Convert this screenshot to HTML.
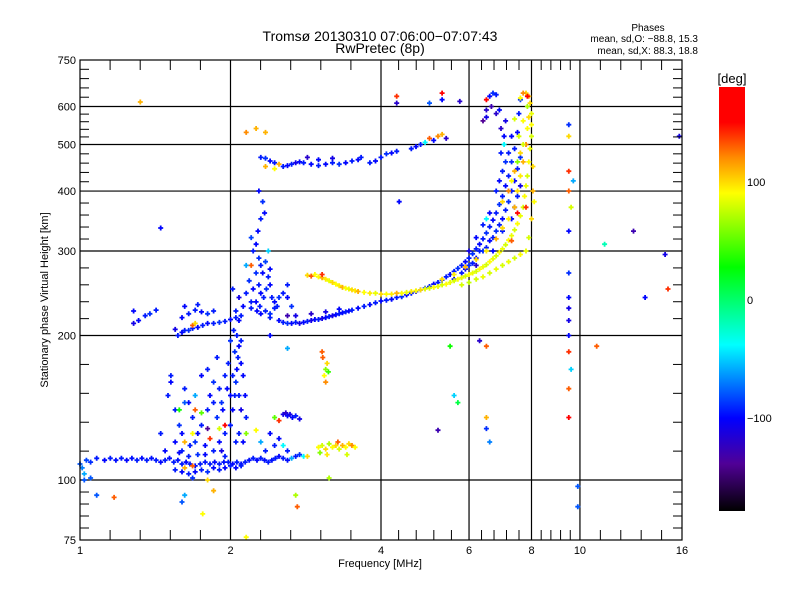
<!DOCTYPE html>
<html><head><meta charset="utf-8">
<style>
body{margin:0;background:#fff;}
svg{display:block;font-family:"Liberation Sans",sans-serif;}
</style></head>
<body>
<svg id="chart" width="800" height="600" viewBox="0 0 800 600" xmlns="http://www.w3.org/2000/svg">
<defs>
<linearGradient id="cbar" x1="0" y1="1" x2="0" y2="0" gradientUnits="objectBoundingBox">
</linearGradient>
</defs>
<rect width="800" height="600" fill="#fff"/>
<text x="380" y="41" font-size="14" text-anchor="middle">Tromsø 20130310 07:06:00−07:07:43</text>
<text x="380" y="53" font-size="14" text-anchor="middle">RwPretec (8p)</text>
<text x="648" y="31" font-size="10" text-anchor="middle">Phases</text>
<text x="698" y="42" font-size="10" text-anchor="end">mean, sd,O:  −88.8, 15.3</text>
<text x="698" y="54" font-size="10" text-anchor="end">mean, sd,X:  88.3, 18.8</text>
<g id="grid"></g>
<g id="marks"></g>
<rect x="80" y="60" width="602" height="480" fill="none" stroke="#000" stroke-width="1.2"/>
<g id="axes"></g>
<text x="380" y="567" font-size="11" text-anchor="middle">Frequency [MHz]</text>
<text transform="translate(48,300) rotate(-90)" font-size="11" text-anchor="middle">Stationary phase Virtual Height [km]</text>
<rect x="719" y="87" width="26" height="424" fill="url(#cbar)"/>
<text x="732" y="83" font-size="13" text-anchor="middle">[deg]</text>
<g id="cbticks"></g>
</svg>
<script>
const xMajor=[1,2,4,6,8,10,16];
const yMajor=[75,100,200,300,400,500,600,750];
const cbTicks=[100,0,-100];
const eLayerPts=[[1.0,108,-80],[1.01,106,-70],[1.02,103,-60],[1.03,110,-85],[1.05,109,-90],[1.08,111,-95],[1.12,110,-100],[1.15,111,-95],[1.18,110,-98],[1.21,111,-95],[1.24,110,-100],[1.27,111,-97],[1.30,110,-95],[1.33,111,-98],[1.36,110,-95],[1.39,111,-97],[1.42,110,-95],[1.45,109,-100],[1.48,110,-95],[1.51,111,-98],[1.54,109,-95],[1.57,110,-97],[1.60,108,-95],[1.63,109,-100],[1.66,108,-95],[1.70,107,-98],[1.74,108,-95],[1.78,109,-97],[1.82,108,-95],[1.86,109,-100],[1.90,108,-95],[1.94,109,-97],[1.98,109,-95],[2.02,108,-100],[2.06,109,-95],[2.10,108,-98],[2.14,109,-95],[2.18,110,-97],[2.22,111,-95],[2.26,110,-100],[2.30,111,-95],[2.34,110,-98],[2.38,109,-95],[2.42,110,-97],[2.46,111,-95],[2.50,112,-100],[2.55,111,-95],[2.60,110,-98],[2.65,111,-60],[2.70,112,-95],[2.75,113,-90],[2.8,112,-40],[2.85,112,100],
[1.55,105,-95],[1.6,104,-100],[1.65,103,-95],[1.7,104,-100],[1.75,105,-95],[1.8,104,-90],[1.85,106,-100],[1.9,105,-95],[1.95,106,-100],[2.0,107,-95],[2.05,106,-100],[2.1,107,-95],[1.68,107,130],[1.62,106,110]];
const spreadPts=[[2.22,300,-95],[2.25,310,-100],[2.28,290,-90],[2.3,280,-95],[2.32,270,-100],[2.35,285,-85],[2.38,265,-95],[2.4,255,-100],[2.25,270,-90],[2.28,255,-95],[2.3,245,-100],[2.33,240,-95],[2.36,250,-90],[2.42,240,-95],[2.45,235,-100],[2.48,230,-95],[2.5,240,-90],[2.22,250,-100],[2.2,235,-95],[2.18,260,-90],[2.15,245,-95],[2.12,230,-100],[2.1,220,-95],[2.27,330,-100],[2.3,350,-95],[2.32,380,-90],[2.34,360,-100],[2.2,320,-85],[2.25,235,-100],[2.35,225,-95],[2.4,222,-90],[2.45,228,-95],[2.38,300,-50],[2.4,275,-100],[2.29,230,-95],[2.26,225,-100],[2.55,245,-95],[2.6,240,-100],[2.6,255,-95],[2.65,230,-90],[2.28,400,-100],[2.15,280,-60],[2.05,225,-95],[2.08,240,-110],[2.02,250,-95],
[2.0,130,-95],[2.02,140,-100],[2.04,150,-95],[2.05,160,-90],[2.06,170,-100],[2.07,180,-95],[2.08,190,-100],[2.06,200,-95],[2.04,185,-90],[2.02,165,-95],[2.0,150,-100],[1.98,175,-95],[2.1,175,-100],[2.1,195,-95],[2.12,165,-100],[2.08,150,-95],[2.1,140,-110],[2.08,125,-95],[2.12,120,-100],[2.05,120,-95],[1.97,155,-100],[1.95,165,-95],[1.92,145,-90],[2.14,150,-100],[2.15,135,-95],[2.03,205,-95],[2.08,215,-100],[2.0,195,-90],
[1.5,150,-95],[1.52,160,-100],[1.55,140,-95],[1.58,130,-90],[1.6,125,-100],[1.62,155,-95],[1.65,145,-100],[1.68,135,-95],[1.7,120,-90],[1.72,125,-100],[1.75,130,-95],[1.78,118,-100],[1.8,140,-95],[1.82,150,-100],[1.85,145,-95],[1.88,135,-90],[1.9,155,-95],[1.93,140,-100],[1.95,125,-95],[1.75,165,-100],[1.8,170,-95],[1.85,160,-90],[1.88,180,-95],[1.7,150,-60],[1.66,118,-95],[1.55,120,-100],[1.6,115,-95],[1.45,125,-95],[1.48,115,-100],[1.52,165,-95],[1.92,115,-110],[1.85,115,-95],[1.78,113,-100],[1.72,113,-90],[1.65,112,-95],[1.58,114,-100],[1.95,112,-95],[1.9,120,-100],[1.7,140,130],[1.68,125,90],[1.75,138,50],[1.82,122,140],[1.62,120,110],[1.58,140,30],[1.9,128,80],[1.8,128,-140],[1.95,130,150],[2.15,125,60],[1.62,145,-80],[2.25,127,90],[2.3,120,-60],[2.4,125,-100],[2.45,118,-95],[2.5,122,-100],[2.55,118,-40],[2.6,115,-95],[2.35,115,-95],
[2.55,137,-110],[2.58,138,-120],[2.6,136,-100],[2.63,137,-110],[2.66,135,-100],[2.7,136,-95],[2.75,134,-110],[2.5,133,140],[2.45,135,50]];
const oTracePts=[[1.28,212,-110],[1.31,215,-100],[1.35,220,-95],[1.38,222,-90],[1.42,226,-95],
[1.57,200,-95],[1.6,203,-100],[1.62,205,-95],[1.65,205,-90],[1.68,207,-95],[1.72,208,-100],[1.76,210,-95],[1.8,212,-100],[1.85,212,-95],[1.9,213,-90],[1.95,214,-95],[2.0,216,-100],[2.05,218,-95],[1.6,218,-100],[1.65,222,-95],[1.7,226,-95],[1.75,224,-100],[1.8,222,-90],[1.85,225,-95],[1.62,230,-100],[1.72,232,-95],[1.68,210,130],[1.7,212,100],
[2.2,228,-95],[2.3,222,-100],[2.4,218,-95],[2.5,215,-100],[2.55,213,-95],[2.6,212,-90],[2.65,212,-100],[2.7,213,-95],[2.75,212,-110],[2.8,213,-100],[2.85,214,-95],[2.9,215,-110],[2.95,216,-100],[3.0,216,-95],[3.05,217,-110],[3.1,218,-100],[3.15,219,-95],[3.2,220,-110],[3.25,221,-100],[3.3,222,-95],[3.35,223,-100],[3.4,224,-95],[3.45,225,-100],[3.5,226,-95],[3.6,228,-100],[3.7,230,-95],[3.8,232,-100],[3.9,234,-95],[4.0,236,-100],[4.1,237,-95],[4.2,238,-100],[4.3,240,-95],[4.4,241,-90],[4.5,243,-100],[4.6,245,-95],[4.7,247,-100],[4.8,249,-95],[4.9,251,-90],[5.0,253,-95],[5.1,256,-100],[5.2,258,-95],[5.3,261,-90],[5.4,265,-95],[5.5,268,-100],[5.6,272,-95],[5.7,276,-90],[5.8,280,-95],[5.9,285,-100],[6.0,290,-95],[6.1,296,-90],[6.2,303,-95],[6.3,310,-100],[6.4,318,-95],[6.5,327,-90],[6.6,337,-95],[6.7,348,-100],[6.8,360,-95],[6.9,375,-90],[7.0,390,-95],[7.1,410,-100],[7.2,430,-95],[7.3,460,-90],[7.4,490,-95],[7.5,530,-100],[7.55,580,-95],[7.6,620,-90],
[2.7,220,-110],[2.9,222,-120],[3.1,224,-110],[3.3,227,-100],[2.6,220,-130],
[5.6,262,-100],[5.8,270,-95],[5.9,275,-100],[6.0,280,-90],[6.1,283,-95],[6.2,290,-100],[6.3,300,-95],[6.4,300,-90],[6.5,305,-95],[6.6,315,-100],[6.7,320,-95],[6.8,330,-90],[6.9,340,-95],[7.0,350,-100],[7.1,365,-95],[7.2,380,-90],[7.3,400,-95],[7.4,420,-100],[7.5,445,-95],[7.6,470,-90],[6.2,320,-100],[6.4,340,-95],[6.6,360,-100],[6.8,400,-95],[6.9,420,-100],[7.0,440,-95],[7.1,460,-90],[7.2,480,-95],[7.3,520,-100],[6.95,480,-95],[7.05,520,-100],[7.1,560,-110],[6.95,540,-120],[7.2,400,-110],[7.4,370,-100],[7.5,390,-95],[7.6,410,-110],[6.5,350,-40],[6.7,300,-100],[7.0,330,-95],[7.3,350,-100],[6.2,280,-120],[6.0,300,-110],[6.5,590,-120],[6.6,630,-100],[6.7,640,-90],[6.8,635,-95],[6.65,600,-130],[6.4,560,-140],[6.5,570,-110],[6.8,580,-120],[7.05,500,-40],[6.9,590,-100]];
const xTracePts=[[3.0,265,90],[3.05,264,110],[3.1,262,95],[3.15,260,85],[3.2,258,100],[3.25,256,90],[3.3,254,95],[3.35,252,110],[3.4,251,90],[3.45,250,85],[3.5,249,100],[3.55,248,95],[3.6,247,110],[3.7,246,90],[3.8,245,95],[3.9,245,85],[4.0,244,100],[4.1,244,90],[4.2,244,95],[4.3,245,110],[4.4,245,90],[4.5,246,85],[4.6,247,95],[4.7,248,90],[4.8,249,100],[4.9,250,85],[5.0,251,80],[5.1,252,90],[5.2,253,85],[5.3,255,80],[5.4,256,90],[5.5,258,85],[5.6,260,80],[5.7,262,90],[5.8,264,85],[5.9,266,80],[6.0,268,90],[6.1,270,85],[6.2,272,80],[6.3,275,90],[6.4,278,85],[6.5,281,80],[6.6,285,90],[6.7,289,85],[6.8,293,80],[6.9,298,90],[7.0,303,85],[7.1,309,80],[7.2,316,90],[7.3,323,85],[7.4,332,80],[7.5,342,90],[7.6,355,85],[7.7,370,80],[7.75,390,90],[7.8,410,85],[7.85,430,80],[7.9,460,90],[7.95,490,85],[8.0,520,80],[8.0,550,90],[8.0,580,85],[7.95,610,100],[7.9,630,110],[7.8,640,100],[7.7,640,120],[7.6,625,90],
[5.3,262,100],[5.6,268,95],[5.9,278,110],[6.2,288,100],[6.5,300,95],[6.8,318,110],[7.0,335,100],[7.2,350,95],[7.4,370,110],[7.5,400,100],[7.6,430,95],[7.7,460,110],[7.8,500,120],[7.85,540,90],[7.9,570,100],[7.7,500,80],[7.6,480,100],[7.5,460,60],[7.4,440,110],[7.3,420,90],[7.0,380,100],[7.2,400,120],[7.55,520,80],[7.7,560,90],[7.85,600,70],[8.05,450,100],[8.05,400,110],[8.1,380,90],[8.0,350,100],[7.9,320,80],[7.8,300,85],[7.6,295,90],[7.4,290,80],[7.2,285,85],[7.0,280,80],[6.8,275,85],[6.6,270,80],[6.4,265,85],[6.2,262,80],[6.0,258,75],[5.8,255,80],[7.8,370,140],[7.5,360,150],[7.3,315,130],[6.5,620,150],[7.85,630,150],[7.4,565,80],
[2.85,267,100],[2.9,266,130],[2.95,268,90],[3.05,268,140],
[3.0,117,90],[3.05,118,80],[3.1,116,100],[3.15,119,70],[3.2,117,90],[3.25,118,100],[3.3,116,80],[3.35,118,110],[3.4,117,90],[3.45,119,100],[3.5,118,120],[3.55,117,90],[3.02,114,60],[3.12,113,95],[3.28,120,130],[3.42,113,80],
[3.08,165,90],[3.1,170,60],[3.12,175,100],[3.1,160,120],[3.14,168,40],[3.06,180,130]];
const upperPts=[[2.3,470,-95],[2.35,468,-90],[2.4,462,-100],[2.45,458,-95],[2.5,455,110],[2.55,450,-95],[2.6,452,-100],[2.65,455,-95],[2.7,458,-110],[2.75,460,-100],[2.8,458,-95],[2.9,455,-100],[3.0,452,-95],[3.1,455,-100],[3.2,458,-95],[3.3,455,-90],[3.4,458,-100],[3.5,462,-95],[3.6,465,-100],[3.65,470,-95],[3.0,465,-100],[3.2,468,-110],[2.85,470,-120],[2.45,445,90],[2.35,450,110],[3.8,458,-95],[3.9,462,-100],[4.0,470,-95],[4.1,478,-90],[4.2,480,-100],[4.3,484,-95],[4.6,490,-95],[4.7,495,-100],[4.8,500,-95],[4.9,505,-40],[5.0,515,130],[5.1,510,-100],[5.2,520,120],[5.3,525,110],[5.4,515,-120]];
const scatterPts=[[1.32,613,110],[2.15,530,120],[2.25,540,110],[5.3,640,150],[5.3,620,-100],[5.75,615,-120],[4.3,630,140],[4.3,610,-120],[5.0,610,-80],
[9.5,550,-90],[9.5,520,100],[9.5,440,140],[9.7,420,-60],[9.5,400,130],[9.6,370,80],[9.5,330,-100],[9.5,270,-90],[9.5,240,-100],[9.5,228,-110],[9.5,215,-110],[9.5,200,-100],[9.5,185,140],[9.6,170,-50],[9.5,155,130],[9.5,135,150],[9.9,97,-80],[9.9,88,-80],
[10.8,190,130],[11.2,310,-20],[12.8,330,-130],[13.5,240,-100],[14.8,295,-110],[15,250,140],[15.8,520,-110],[6.5,190,130],[6.3,195,-120],[6.5,135,110],[6.5,128,-90],[6.6,120,-70],[5.2,127,-130],[5.5,190,30],[5.7,145,10],[5.6,150,-50],
[1.08,93,-80],[1.17,92,130],[1.6,90,-80],[1.62,93,-60],[1.76,85,90],[1.85,95,110],[2.15,76,90],[2.7,93,70],[2.72,88,130],[3.15,101,70],[1.8,100,100],[1.68,101,-90],[1.02,100,-80],[1.05,101,-80],
[1.45,335,-100],[1.55,206,-110],[1.28,225,-100],[3.05,185,130],[2.4,200,-100],[2.2,280,130],[2.6,188,-60],[4.35,380,-100],[2.35,530,110]];

const X=f=>80+150.5*Math.log2(f);
const Y=h=>540-480*Math.log10(h/75);
const cStops=[[180,[255,0,0]],[150,[255,0,0]],[120,[255,140,0]],[90,[255,255,0]],[27,[0,255,0]],[-39,[0,255,255]],[-101,[0,0,255]],[-140,[80,0,150]],[-180,[0,0,0]]];
function col(v){
  v=Math.max(-180,Math.min(180,v));
  for(let i=0;i<cStops.length-1;i++){
    const a=cStops[i],b=cStops[i+1];
    if(v<=a[0]&&v>=b[0]){const t=(a[0]-v)/(a[0]-b[0]);
      const c=a[1].map((q,k)=>Math.round(q+(b[1][k]-q)*t));
      return `rgb(${c[0]},${c[1]},${c[2]})`;}
  }
  return '#000';
}
const NS='http://www.w3.org/2000/svg';
function mk(tag,attrs,parent){const e=document.createElementNS(NS,tag);for(const k in attrs)e.setAttribute(k,attrs[k]);parent.appendChild(e);return e;}
const grad=document.getElementById('cbar');
cStops.slice().reverse().forEach(s=>{mk('stop',{offset:((s[0]+180)/360).toFixed(3),'stop-color':col(s[0])},grad);});
const grid=document.getElementById('grid'),axes=document.getElementById('axes');
xMajor.forEach((f,i)=>{
  const x=X(f);
  if(i>0&&i<xMajor.length-1){const l=mk('line',{x1:x,y1:60,x2:x,y2:540,stroke:'#000','stroke-width':1.2},grid);
    
    }
  const t=mk('text',{x:x,y:554,'font-size':11,'text-anchor':'middle'},axes);t.textContent=f;
  
  
  if(i<xMajor.length-1){const x2=X(xMajor[i+1]);
    for(let k=1;k<5;k++){const xm=x+(x2-x)*k/5;
      const a=mk('line',{x1:xm,y1:540,x2:xm,y2:530,stroke:'#000'},axes);
      
      
      const b=mk('line',{x1:xm,y1:60,x2:xm,y2:70,stroke:'#000'},axes);
      
      }}
});
yMajor.forEach((h,i)=>{
  const y=Y(h);
  if(i>0&&i<yMajor.length-1){const l=mk('line',{x1:80,y1:y,x2:682,y2:y,stroke:'#000','stroke-width':1.2},grid);
    
    }
  const t=mk('text',{x:76,y:y+4,'font-size':11,'text-anchor':'end'},axes);t.textContent=h;
  
  
  if(i<yMajor.length-1){const y2=Y(yMajor[i+1]);
    for(let k=1;k<5;k++){const ym=y+(y2-y)*k/5;
      const a=mk('line',{x1:80,y1:ym,x2:89,y2:ym,stroke:'#000'},axes);
      
      
      const b=mk('line',{x1:673,y1:ym,x2:682,y2:ym,stroke:'#000'},axes);
      
      }}
});
const cbt=document.getElementById('cbticks');
cbTicks.forEach(v=>{const y=300-(v/180)*212;
  const t=mk('text',{x:747,y:y+4,'font-size':11},cbt);t.textContent=v===-100?'−100':v;
  
  });
const marks=document.getElementById('marks');
const groups=[['e-layer-point',eLayerPts],['spread-point',spreadPts],['o-trace-point',oTracePts],['x-trace-point',xTracePts],['upper-trace-point',upperPts],['scatter-point',scatterPts]];
groups.forEach(g=>{
  g[1].forEach(p=>{
    const x=X(p[0]),y=Y(p[1]);
    if(x<80||x>682||y<60||y>540)return;
    const e=mk('path',{d:`M${(x-2.5).toFixed(1)} ${y.toFixed(1)}h5M${x.toFixed(1)} ${(y-2.5).toFixed(1)}v5`,stroke:col(p[2]),'stroke-width':1.8,fill:'none'},marks);
    
    
  });
});
</script>
</body></html>
